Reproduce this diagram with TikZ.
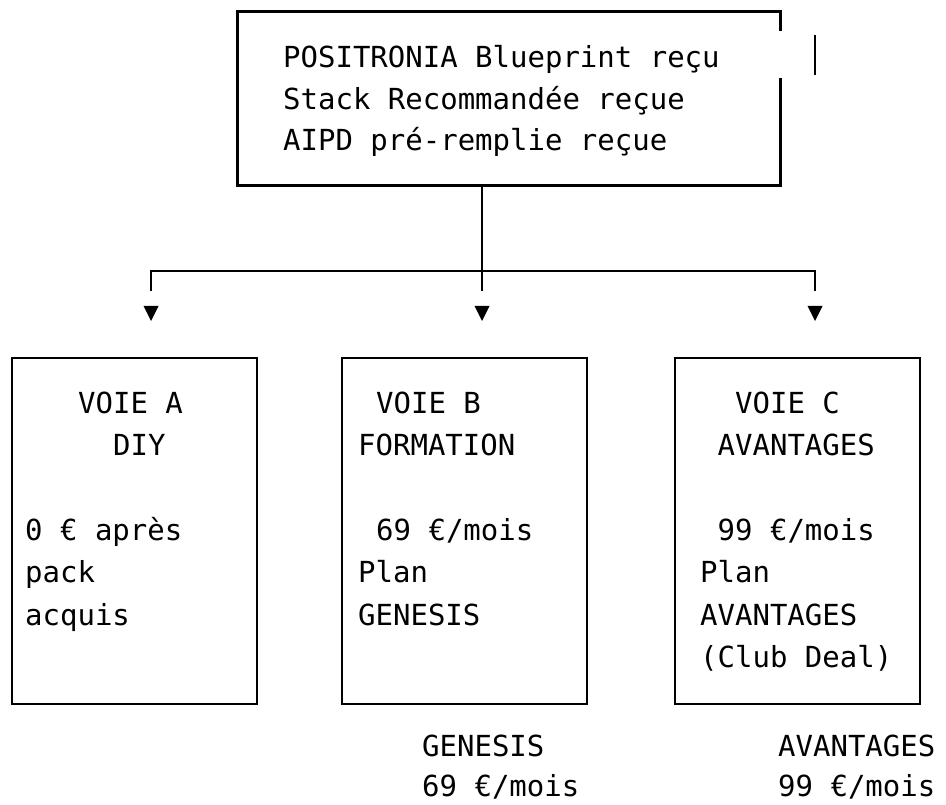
\documentclass[tikz,border=0pt]{standalone}
\usepackage{fontspec}
\setmonofont{DejaVu Sans Mono}
\usetikzlibrary{calc}
\tikzset{
  x=1pt, y=-1pt,
  rule/.style={line width=2.9pt, line cap=butt},
  label/.style={inner sep=0pt, anchor=base west, font=\fontsize{29}{42}\selectfont\ttfamily},
  panel/.style={draw, rule, minimum width=245pt, minimum height=346pt, inner sep=0pt},
  tipmark/.style={fill=black},
}
\begin{document}
\begin{tikzpicture}
\useasboundingbox (0,0) rectangle (946,805);

% top box: border drawn as an open path (right side has a gap)
\node[minimum width=542pt, minimum height=173pt, inner sep=0pt] (top) at (509,98.5) {};
\draw[rule] ($(top.north east)+(0,19)$) -- (top.north east) -- (top.north west)
  -- (top.south west) -- (top.south east) -- ($(top.south east)+(0,-107)$);
\coordinate (barA) at (815,35);
\coordinate (barB) at (815,75);
\draw[rule] (barA) -- (barB);

\node[label] (t1) at (283,68) {POSITRONIA Blueprint reçu};
\node[label] (t2) at (283,110) {Stack Recommandée reçue};
\node[label] (t3) at (283,151) {AIPD pré-remplie reçue};

% three lanes
\node[panel] (A) at (134.5,531) {};
\node[panel] (B) at (464.5,531) {};
\node[panel] (C) at (797.5,531) {};

% connector tree
\coordinate (stem) at (482,185);
\coordinate (hub) at (482,271);
\coordinate (bl) at (151,271);
\coordinate (br) at (815,271);
\coordinate (eA) at (151,291);
\coordinate (eB) at (482,291);
\coordinate (eC) at (815,291);
\draw[rule] (stem) -- (hub);
\draw[rule] (eA) -- (bl) -- (br) -- (eC);
\draw[rule] (hub) -- (eB);

\foreach \c in {eA,eB,eC}{
  \fill[tipmark] ($(\c)+(-7.5,15)$) -- ($(\c)+(7.5,15)$) -- ($(\c)+(0,30)$) -- cycle;
}

% lane A
\node[label] at (78,413) {VOIE A};
\node[label] at (113,455.4) {DIY};
\node[label] at (25,540.2) {0 € après};
\node[label] at (25,582.6) {pack};
\node[label] at (25,625) {acquis};

% lane B
\node[label] at (376,413) {VOIE B};
\node[label] at (358,455.4) {FORMATION};
\node[label] at (376,540.2) {69 €/mois};
\node[label] at (358,582.6) {Plan};
\node[label] at (358,625) {GENESIS};

% lane C
\node[label] at (735,413) {VOIE C};
\node[label] at (717.5,455.4) {AVANTAGES};
\node[label] at (717.5,540.2) {99 €/mois};
\node[label] at (700,582.6) {Plan};
\node[label] at (700,625) {AVANTAGES};
\node[label] at (700,667.4) {(Club Deal)};

% footer
\node[label] at (422,756) {GENESIS};
\node[label] at (422,796) {69 €/mois};
\node[label] at (778,756) {AVANTAGES};
\node[label] at (778,796) {99 €/mois};
\end{tikzpicture}
\end{document}
